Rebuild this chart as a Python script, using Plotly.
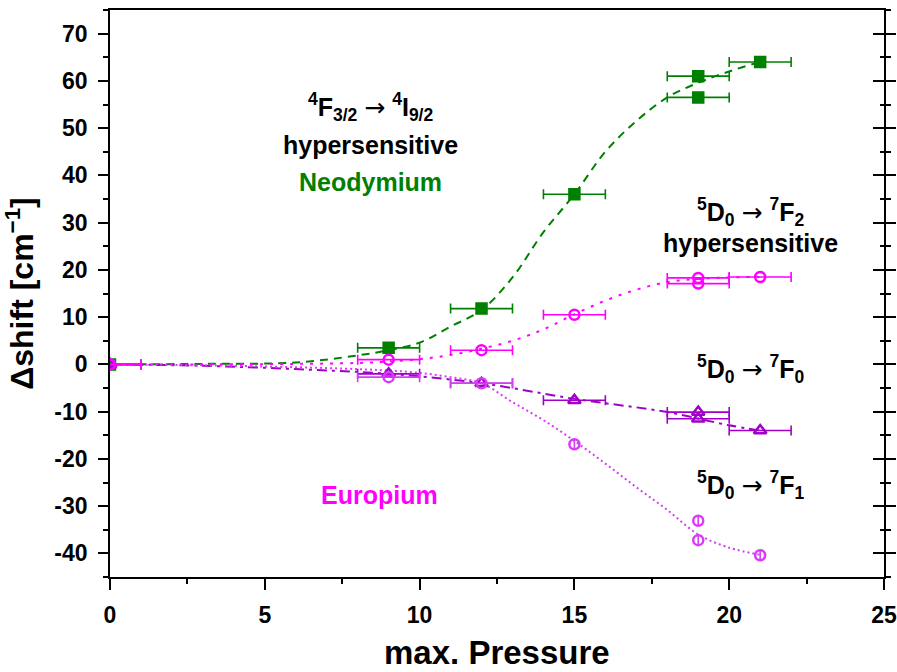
import plotly.graph_objects as go

# ---- data ----
pressure = [0, 9, 12, 15, 19, 19, 21]

nd_shift = [0, 3.5, 11.8, 36, 61, 56.5, 64]          # Nd 4F3/2 -> 4I9/2
f2_shift = [0, 1.0, 3.0, 10.5, 18.3, 17.1, 18.5]     # Eu 5D0 -> 7F2
f0_shift = [0, -2.0, -4.0, -7.6, -10.1, -11.5, -14.0]  # Eu 5D0 -> 7F0
f1_shift = [0, -2.7, -4.0, -16.9, -33.1, -37.2, -40.4]  # Eu 5D0 -> 7F1

nd_err = [1, 1, 1, 1, 1, 1, 1]
f2_err = [1, 1, 1, 1, 1, 1, 1]
f0_err = [1, 1, 1, 1, 1, 1, 1]
f1_err = [1, 1, 1, 0, 0, 0, 0]

# fitted guide curves
nd_fit_x = [0, 3, 6, 8, 9, 10, 11, 12, 13, 14, 15, 16, 17, 18, 19, 20, 21]
nd_fit_y = [0, 0.1, 0.4, 1.9, 3.0, 4.6, 8.0, 11.5, 18.4, 28.0, 36.0, 45.0, 51.5, 56.5, 59.6, 62.0, 64.0]

f2_fit_x = [0, 3, 6, 8, 9, 10, 11, 12, 13, 14, 15, 16, 17, 18, 19, 20, 21]
f2_fit_y = [0, 0, 0.1, 0.3, 0.6, 1.1, 2.0, 3.3, 5.0, 7.4, 10.6, 13.5, 15.8, 17.4, 18.1, 18.4, 18.5]

f0_fit_x = [0, 3, 6, 9, 12, 15, 18, 20, 21]
f0_fit_y = [0, -0.3, -1.0, -2.0, -4.0, -7.3, -10.1, -12.9, -14.0]

f1_fit_x = [0, 3, 6, 8, 9, 10, 11, 12, 13, 14, 15, 16, 17, 18, 19, 20, 21]
f1_fit_y = [0, -0.2, -0.6, -1.0, -1.3, -1.8, -2.7, -4.0, -8.0, -11.8, -16.2, -21.0, -26.0, -30.8, -36.0, -38.8, -40.3]

x_ticks = [0, 5, 10, 15, 20, 25]
y_ticks = [-40, -30, -20, -10, 0, 10, 20, 30, 40, 50, 60, 70]

GREEN = "#008000"
MAGENTA = "#FF00FF"
PURPLE = "#A000C8"
VIOLET = "#D83CF5"
FONT = "Liberation Sans, Arial, sans-serif"

fig = go.Figure()

# guide curves
fig.add_trace(go.Scatter(x=nd_fit_x, y=nd_fit_y, mode="lines",
                         line=dict(color=GREEN, width=2, dash="8px,6px", shape="spline"),
                         showlegend=False, hoverinfo="skip"))
fig.add_trace(go.Scatter(x=f2_fit_x, y=f2_fit_y, mode="lines",
                         line=dict(color=MAGENTA, width=2, dash="3px,7px", shape="spline"),
                         showlegend=False, hoverinfo="skip"))
fig.add_trace(go.Scatter(x=f0_fit_x, y=f0_fit_y, mode="lines",
                         line=dict(color=PURPLE, width=2, dash="10px,5px,3px,5px", shape="spline"),
                         showlegend=False, hoverinfo="skip"))
fig.add_trace(go.Scatter(x=f1_fit_x, y=f1_fit_y, mode="lines",
                         line=dict(color=VIOLET, width=2, dash="2px,3px", shape="spline"),
                         showlegend=False, hoverinfo="skip"))

def pts(y, err, color, symbol, size):
    return go.Scatter(
        x=pressure, y=y, mode="markers",
        marker=dict(color=color, symbol=symbol, size=size,
                    line=dict(color=color, width=2.5)),
        error_x=dict(type="data", array=err, color=color, thickness=1.6, width=5),
        showlegend=False)

fig.add_trace(pts(nd_shift, nd_err, GREEN, "square", 10))
fig.add_trace(pts(f0_shift, f0_err, PURPLE, "triangle-up-open", 11))
fig.add_trace(pts(f1_shift, f1_err, VIOLET, "circle-open", 10))
fig.add_trace(pts(f2_shift, f2_err, MAGENTA, "circle-open", 10))

# invisible trace for the inner right-hand ticks
fig.add_trace(go.Scatter(x=[0], y=[0], yaxis="y2", mode="markers",
                         marker=dict(opacity=0), showlegend=False, hoverinfo="skip"))

axis_font = dict(family=FONT, size=23, color="black", weight="bold")

fig.update_layout(
    width=897, height=672,
    margin=dict(l=110, r=13, t=10, b=95, autoexpand=False),
    paper_bgcolor="white", plot_bgcolor="white",
    font=dict(family=FONT, color="black"),
    xaxis=dict(range=[0, 25], tickvals=x_ticks, ticktext=[str(v) for v in x_ticks],
               showgrid=False, zeroline=False, automargin=False,
               showline=True, linecolor="black", linewidth=1.6, mirror=True,
               ticks="outside", ticklen=11, tickwidth=1.6, tickcolor="black",
               minor=dict(dtick=2.5, ticks="outside", ticklen=5, tickwidth=1.6, tickcolor="black"),
               tickfont=axis_font, ticklabelstandoff=6),
    yaxis=dict(range=[-45, 75], tickvals=y_ticks, ticktext=[str(v) for v in y_ticks],
               showgrid=False, zeroline=False, automargin=False,
               showline=True, linecolor="black", linewidth=1.6, mirror="ticks",
               ticks="outside", ticklen=10, tickwidth=1.6, tickcolor="black",
               minor=dict(dtick=5, ticks="outside", ticklen=5, tickwidth=1.6, tickcolor="black"),
               tickfont=axis_font, ticklabelstandoff=6,
               title=dict(text="<b>\u0394shift [cm<sup>\u22121</sup>]</b>",
                          font=dict(family=FONT, size=32, color="black"), standoff=12)),
    yaxis2=dict(range=[-45, 75], overlaying="y", side="right", anchor="x",
                tickvals=y_ticks, showticklabels=False, showgrid=False, zeroline=False,
                showline=False, ticks="inside", ticklen=11, tickwidth=1.6, tickcolor="black",
                automargin=False,
                minor=dict(dtick=5, ticks="inside", ticklen=4, tickwidth=1.6, tickcolor="black")),
)

# x-axis title as a paper annotation (keeps it inside the page)
fig.add_annotation(x=0.5, y=-0.134, xref="paper", yref="paper",
                   text="<b>max. Pressure</b>", showarrow=False,
                   xanchor="center", yanchor="middle",
                   font=dict(family=FONT, size=33, color="black"))

ARROW = ' <span style="font-family:DejaVu Sans;font-weight:normal">\u2192</span> '

def label(text, x, y, color="black", size=25):
    fig.add_annotation(x=x, y=y, xref="x", yref="y", text="<b>" + text + "</b>",
                       showarrow=False, xanchor="center", yanchor="middle",
                       font=dict(family=FONT, size=size, color=color))

label("<sup>4</sup>F<sub>3/2</sub>" + ARROW + "<sup>4</sup>I<sub>9/2</sub>", 8.4, 54.5)
label("hypersensitive", 8.4, 46.5)
label("Neodymium", 8.4, 38.7, color=GREEN)
label("<sup>5</sup>D<sub>0</sub>" + ARROW + "<sup>7</sup>F<sub>2</sub>", 20.7, 32.3)
label("hypersensitive", 20.7, 25.6)
label("<sup>5</sup>D<sub>0</sub>" + ARROW + "<sup>7</sup>F<sub>0</sub>", 20.7, -1.0)
label("<sup>5</sup>D<sub>0</sub>" + ARROW + "<sup>7</sup>F<sub>1</sub>", 20.7, -25.5)
label("Europium", 8.7, -27.7, color=MAGENTA)

fig.write_html("out.html")
